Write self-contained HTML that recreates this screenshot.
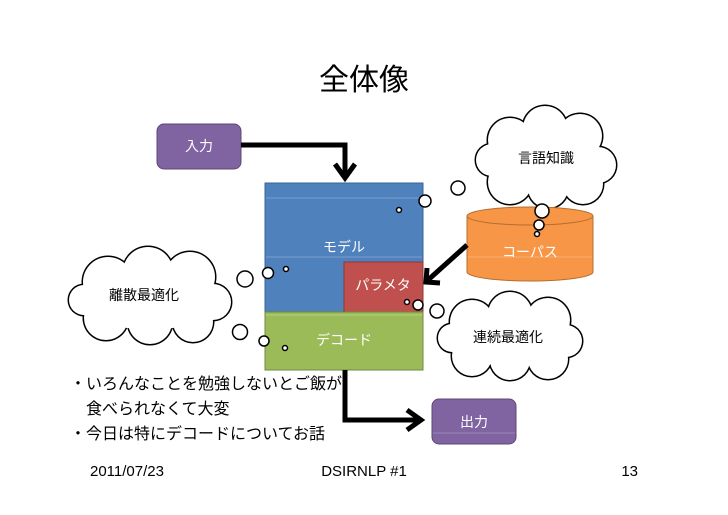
<!DOCTYPE html>
<html><head><meta charset="utf-8"><style>
body{margin:0;background:#fff;}
svg{display:block;font-family:"Liberation Sans","Noto Sans CJK JP",sans-serif;}
</style></head><body>
<svg width="728" height="515" viewBox="0 0 728 515" xmlns="http://www.w3.org/2000/svg">
<text x="364" y="90" font-size="30" text-anchor="middle" fill="#000">全体像</text>

<!-- clouds: outline layer -->
<g fill="#000">
 <circle cx="510" cy="140" r="23.5"/><circle cx="545" cy="128" r="23.5"/><circle cx="580" cy="136" r="23.5"/><circle cx="598" cy="165" r="19.5"/><circle cx="583" cy="184" r="21.5"/><circle cx="548" cy="188" r="21.5"/><circle cx="510" cy="182" r="23.5"/><circle cx="492" cy="160" r="17.5"/>
 <circle cx="108" cy="282" r="26.5"/><circle cx="148" cy="272" r="26.5"/><circle cx="190" cy="277" r="26.5"/><circle cx="213" cy="302" r="19.5"/><circle cx="193" cy="322" r="21.5"/><circle cx="150" cy="322" r="23.5"/><circle cx="106" cy="318" r="23.5"/><circle cx="84" cy="300" r="16.5"/>
 <circle cx="472" cy="322" r="23.5"/><circle cx="510" cy="314" r="23.5"/><circle cx="548" cy="320" r="23.5"/><circle cx="566" cy="341" r="17.5"/><circle cx="548" cy="359" r="21.5"/><circle cx="510" cy="360" r="21.5"/><circle cx="472" cy="356" r="21.5"/><circle cx="452" cy="338" r="15.5"/>
</g>
<g fill="#fff">
 <circle cx="510" cy="140" r="22"/><circle cx="545" cy="128" r="22"/><circle cx="580" cy="136" r="22"/><circle cx="598" cy="165" r="18"/><circle cx="583" cy="184" r="20"/><circle cx="548" cy="188" r="20"/><circle cx="510" cy="182" r="22"/><circle cx="492" cy="160" r="16"/><ellipse cx="546" cy="160" rx="55" ry="32"/>
 <circle cx="108" cy="282" r="25"/><circle cx="148" cy="272" r="25"/><circle cx="190" cy="277" r="25"/><circle cx="213" cy="302" r="18"/><circle cx="193" cy="322" r="20"/><circle cx="150" cy="322" r="22"/><circle cx="106" cy="318" r="22"/><circle cx="84" cy="300" r="15"/><ellipse cx="150" cy="298" rx="65" ry="32"/>
 <circle cx="472" cy="322" r="22"/><circle cx="510" cy="314" r="22"/><circle cx="548" cy="320" r="22"/><circle cx="566" cy="341" r="16"/><circle cx="548" cy="359" r="20"/><circle cx="510" cy="360" r="20"/><circle cx="472" cy="356" r="20"/><circle cx="452" cy="338" r="14"/><ellipse cx="510" cy="338" rx="55" ry="28"/>
</g>
<g font-size="14" fill="#000" text-anchor="middle">
 <text x="546" y="163">言語知識</text>
 <text x="144" y="300">離散最適化</text>
 <text x="508" y="342">連続最適化</text>
</g>

<!-- boxes -->
<rect x="157" y="124" width="84" height="45" rx="7" fill="#8064a2" stroke="#5c4776"/>
<text x="199" y="151" font-size="14" fill="#fff" text-anchor="middle">入力</text>
<rect x="265" y="183" width="158" height="129" fill="#4f81bd" stroke="#3a6496"/>
<line x1="266" y1="198" x2="422" y2="198" stroke="#a9c0de" stroke-width="0.6"/>
<line x1="266" y1="257" x2="422" y2="257" stroke="#a9c0de" stroke-width="0.6"/>
<text x="344" y="252" font-size="14" fill="#fff" text-anchor="middle">モデル</text>
<rect x="344" y="262" width="79" height="50" fill="#c0504d" stroke="#8c3836"/>
<text x="383" y="290" font-size="14" fill="#fff" text-anchor="middle">パラメタ</text>
<rect x="265" y="312" width="158" height="58" fill="#9bbb59" stroke="#71893f"/>
<line x1="266" y1="315" x2="422" y2="315" stroke="#d5e4b8" stroke-width="0.6"/>
<text x="344" y="345" font-size="14" fill="#fff" text-anchor="middle">デコード</text>
<rect x="432" y="399" width="84" height="45" rx="7" fill="#8064a2" stroke="#5c4776"/>
<line x1="433" y1="433" x2="515" y2="433" stroke="#b3a3c8" stroke-width="0.6"/>
<text x="474" y="427" font-size="14" fill="#fff" text-anchor="middle">出力</text>

<!-- cylinder -->
<path d="M467 216 L467 272 A63 9 0 0 0 593 272 L593 216 Z" fill="#f79646" stroke="#b66d2f"/>
<ellipse cx="530" cy="216" rx="63" ry="9" fill="#f79646" stroke="#b66d2f"/>
<line x1="468" y1="257" x2="592" y2="257" stroke="#fbc9a0" stroke-width="0.6"/>
<text x="530" y="257" font-size="14" fill="#fff" text-anchor="middle">コーパス</text>

<!-- arrows -->
<g stroke="#000" stroke-width="5" fill="none" stroke-linejoin="miter">
 <polyline points="241,145 345,145 345,178"/>
 <polyline points="335,164 345,178 355,164"/>
 <polyline points="345,370 345,420 420,420"/>
 <polyline points="407,410 421,420 407,430"/>
 <line x1="467" y1="245" x2="428" y2="280"/>
 <polyline points="427,268 426,282 440,283"/>
</g>

<!-- thought bubbles -->
<g fill="#fff" stroke="#000" stroke-width="1.5">
 <circle cx="458" cy="188" r="7"/><circle cx="425" cy="201" r="6"/><circle cx="399" cy="210" r="2.5"/>
 <circle cx="542" cy="211" r="7"/><circle cx="539" cy="225" r="5"/><circle cx="537" cy="234" r="2.5"/>
 <circle cx="245" cy="279" r="8"/><circle cx="268" cy="273" r="5.5"/><circle cx="286" cy="269" r="2.5"/>
 <circle cx="240" cy="332" r="7.5"/><circle cx="264" cy="341" r="5"/><circle cx="285" cy="348" r="2.5"/>
 <circle cx="437" cy="311" r="7"/><circle cx="418" cy="305" r="5"/><circle cx="407" cy="302" r="2.5"/>
</g>

<!-- bullets -->
<g font-size="16" fill="#000">
 <text x="70" y="389">・いろんなことを勉強しないとご飯が</text>
 <text x="86" y="414">食べられなくて大変</text>
 <text x="70" y="439">・今日は特にデコードについてお話</text>
</g>
<g font-size="15" fill="#000">
 <text x="90" y="476">2011/07/23</text>
 <text x="364" y="476" text-anchor="middle">DSIRNLP #1</text>
 <text x="638" y="476" text-anchor="end">13</text>
</g>
</svg>
</body></html>
